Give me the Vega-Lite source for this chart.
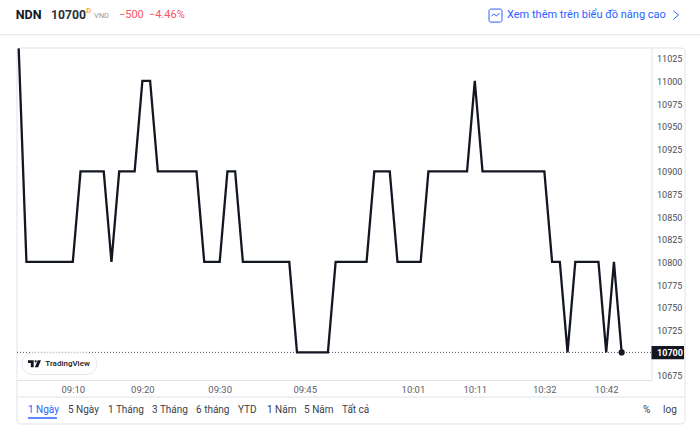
{
  "$schema": "https://vega.github.io/schema/vega-lite/v6.json",
  "description": "NDN intraday price line",
  "width": 634.5,
  "height": 332,
  "autosize": {"type": "none"},
  "padding": {"left": 17, "top": 48, "right": 48.5, "bottom": 50},
  "background": "#ffffff",
  "data": {"values": [
    {"bar":0,"price":11036},{"bar":1,"price":10800},{"bar":2,"price":10800},{"bar":3,"price":10800},{"bar":4,"price":10800},{"bar":5,"price":10800},{"bar":6,"price":10800},{"bar":7,"price":10800},
    {"bar":8,"price":10900},{"bar":9,"price":10900},{"bar":10,"price":10900},{"bar":11,"price":10900},{"bar":12,"price":10800},{"bar":13,"price":10900},{"bar":14,"price":10900},{"bar":15,"price":10900},
    {"bar":16,"price":11000},{"bar":17,"price":11000},{"bar":18,"price":10900},{"bar":19,"price":10900},{"bar":20,"price":10900},{"bar":21,"price":10900},{"bar":22,"price":10900},{"bar":23,"price":10900},
    {"bar":24,"price":10800},{"bar":25,"price":10800},{"bar":26,"price":10800},{"bar":27,"price":10900},{"bar":28,"price":10900},{"bar":29,"price":10800},{"bar":30,"price":10800},{"bar":31,"price":10800},
    {"bar":32,"price":10800},{"bar":33,"price":10800},{"bar":34,"price":10800},{"bar":35,"price":10800},{"bar":36,"price":10700},{"bar":37,"price":10700},{"bar":38,"price":10700},{"bar":39,"price":10700},
    {"bar":40,"price":10700},{"bar":41,"price":10800},{"bar":42,"price":10800},{"bar":43,"price":10800},{"bar":44,"price":10800},{"bar":45,"price":10800},{"bar":46,"price":10900},{"bar":47,"price":10900},
    {"bar":48,"price":10900},{"bar":49,"price":10800},{"bar":50,"price":10800},{"bar":51,"price":10800},{"bar":52,"price":10800},{"bar":53,"price":10900},{"bar":54,"price":10900},{"bar":55,"price":10900},
    {"bar":56,"price":10900},{"bar":57,"price":10900},{"bar":58,"price":10900},{"bar":59,"price":11000},{"bar":60,"price":10900},{"bar":61,"price":10900},{"bar":62,"price":10900},{"bar":63,"price":10900},
    {"bar":64,"price":10900},{"bar":65,"price":10900},{"bar":66,"price":10900},{"bar":67,"price":10900},{"bar":68,"price":10900},{"bar":69,"price":10800},{"bar":70,"price":10800},{"bar":71,"price":10700},
    {"bar":72,"price":10800},{"bar":73,"price":10800},{"bar":74,"price":10800},{"bar":75,"price":10800},{"bar":76,"price":10700},{"bar":77,"price":10800},{"bar":78,"price":10700}
  ]},
  "layer": [
    {
      "data": {"values": [{}]},
      "mark": {"type": "rect", "fill": null, "stroke": "#e0e3eb", "strokeWidth": 1, "cornerRadius": 4},
      "encoding": {
        "x": {"datum": -0.22, "type": "quantitative", "scale": {"domain": [-0.22, 81.86], "nice": false, "zero": false}, "title": null,
          "axis": {"values": [7, 16, 26, 37, 51, 59, 68, 76], "labelExpr": "{'7':'09:10','16':'09:20','26':'09:30','37':'09:45','51':'10:01','59':'10:11','68':'10:32','76':'10:42'}[datum.value]", "grid": false, "ticks": false, "domainColor": "#e0e3eb", "labelColor": "#5d606b", "labelFont": "Roboto", "labelFontSize": 9.5, "labelPadding": 4, "labelFlush": false, "title": null}},
        "x2": {"datum": 86.2},
        "y": {"datum": 10620.9, "type": "quantitative", "scale": {"domain": [10669.5, 11036.4], "nice": false, "zero": false}, "title": null,
          "axis": {"orient": "right", "values": [10675, 11025], "labels": false, "grid": false, "ticks": false, "domainColor": "#e0e3eb", "title": null}},
        "y2": {"datum": 11036.4}
      }
    },
    {
      "data": {"values": [{"tick":10675},{"tick":10725},{"tick":10750},{"tick":10775},{"tick":10800},{"tick":10825},{"tick":10850},{"tick":10875},{"tick":10900},{"tick":10925},{"tick":10950},{"tick":10975},{"tick":11000},{"tick":11025}]},
      "mark": {"type": "text", "align": "left", "baseline": "middle", "font": "Roboto", "fontSize": 9, "fill": "#4a4e5a", "dy": 1},
      "encoding": {"x": {"datum": 82.58}, "y": {"field": "tick", "type": "quantitative"}, "text": {"field": "tick", "type": "quantitative", "format": "d"}}
    },
    {
      "data": {"values": [{}]},
      "mark": {"type": "rule", "stroke": "#e0e3eb", "strokeWidth": 1},
      "encoding": {"x": {"datum": -2.42}, "x2": {"datum": 88.13}, "y": {"datum": 11051}}
    },
    {
      "data": {"values": [{}]},
      "mark": {"type": "rule", "stroke": "#e0e3eb", "strokeWidth": 1},
      "encoding": {"x": {"datum": -0.22}, "x2": {"datum": 86.2}, "y": {"datum": 10650.7}}
    },
    {
      "data": {"values": [{}]},
      "mark": {"type": "rule", "stroke": "#4a4e5a", "strokeWidth": 1, "strokeDash": [1, 2]},
      "encoding": {"x": {"datum": -0.22}, "x2": {"datum": 81.86}, "y": {"datum": 10700}}
    },
    {
      "mark": {"type": "line", "stroke": "#131722", "strokeWidth": 2.3, "clip": true},
      "encoding": {
        "x": {"field": "bar", "type": "quantitative"},
        "y": {"field": "price", "type": "quantitative"}
      }
    },
    {
      "transform": [{"filter": "datum.bar == 78"}],
      "mark": {"type": "circle", "fill": "#131722", "opacity": 1, "size": 38},
      "encoding": {
        "x": {"field": "bar", "type": "quantitative"},
        "y": {"field": "price", "type": "quantitative"}
      }
    },
    {
      "data": {"values": [{}]},
      "mark": {"type": "rect", "fill": "#ffffff", "stroke": "#e6e8ee", "strokeWidth": 1, "cornerRadius": 11},
      "encoding": {"x": {"datum": 0.43}, "x2": {"datum": 10.13}, "y": {"datum": 10675.5}, "y2": {"datum": 10699.5}}
    },
    {
      "data": {"values": [{}]},
      "mark": {"type": "point", "filled": true, "fill": "#131722", "opacity": 1, "size": 676, "shape": "M-0.5,-0.27H-0.06V0.27H-0.28V-0.05H-0.5ZM0.09,-0.27A0.085,0.085 0 1 1 0.09,-0.1A0.085,0.085 0 1 1 0.09,-0.27ZM0.25,-0.27H0.5L0.28,0.27H0.03Z"},
      "encoding": {"x": {"datum": 2.04}, "y": {"datum": 10687.5}}
    },
    {
      "data": {"values": [{"label": "TradingView"}]},
      "mark": {"type": "text", "align": "left", "baseline": "middle", "font": "Roboto", "fontSize": 8, "fontWeight": 500, "fill": "#131722"},
      "encoding": {"x": {"datum": 3.44}, "y": {"datum": 10687.5}, "text": {"field": "label"}}
    },
    {
      "data": {"values": [{}]},
      "mark": {"type": "rect", "fill": "#131722"},
      "encoding": {"x": {"datum": 81.86}, "x2": {"datum": 86.07}, "y": {"datum": 10692.4}, "y2": {"datum": 10707.1}}
    },
    {
      "data": {"values": [{"label": "10700"}]},
      "mark": {"type": "text", "align": "left", "baseline": "middle", "font": "Roboto", "fontSize": 9, "fontWeight": 700, "fill": "#ffffff"},
      "encoding": {"x": {"datum": 82.58}, "y": {"datum": 10699.5}, "text": {"field": "label"}}
    },
    {
      "data": {"values": [{"label": "NDN"}]},
      "mark": {"type": "text", "align": "left", "baseline": "middle", "font": "Roboto", "fontSize": 12.5, "fontWeight": 700, "fill": "#131722"},
      "encoding": {"x": {"datum": -0.39}, "y": {"datum": 11072.8}, "text": {"field": "label"}}
    },
    {
      "data": {"values": [{"label": "10700"}]},
      "mark": {"type": "text", "align": "left", "baseline": "middle", "font": "Roboto", "fontSize": 12.2, "fontWeight": 700, "fill": "#2a2e39"},
      "encoding": {"x": {"datum": 4.18}, "y": {"datum": 11072.8}, "text": {"field": "label"}}
    },
    {
      "data": {"values": [{"label": "D"}]},
      "mark": {"type": "text", "align": "left", "baseline": "middle", "font": "Roboto", "fontSize": 7.5, "fontWeight": 700, "fill": "#ffa726"},
      "encoding": {"x": {"datum": 8.75}, "y": {"datum": 11077.2}, "text": {"field": "label"}}
    },
    {
      "data": {"values": [{"label": "VND"}]},
      "mark": {"type": "text", "align": "left", "baseline": "middle", "font": "Roboto", "fontSize": 7.5, "fill": "#9598a1"},
      "encoding": {"x": {"datum": 9.74}, "y": {"datum": 11071.7}, "text": {"field": "label"}}
    },
    {
      "data": {"values": [{"label": "−500"}]},
      "mark": {"type": "text", "align": "left", "baseline": "middle", "font": "Roboto", "fontSize": 11, "fill": "#f7525f"},
      "encoding": {"x": {"datum": 12.97}, "y": {"datum": 11072.8}, "text": {"field": "label"}}
    },
    {
      "data": {"values": [{"label": "−4.46%"}]},
      "mark": {"type": "text", "align": "left", "baseline": "middle", "font": "Roboto", "fontSize": 11, "fill": "#f7525f"},
      "encoding": {"x": {"datum": 16.85}, "y": {"datum": 11072.8}, "text": {"field": "label"}}
    },
    {
      "data": {"values": [{}]},
      "mark": {"type": "rect", "fill": null, "stroke": "#2962ff", "strokeWidth": 1, "cornerRadius": 2},
      "encoding": {"x": {"datum": 60.84}, "x2": {"datum": 62.52}, "y": {"datum": 11065}, "y2": {"datum": 11079.4}}
    },
    {
      "data": {"values": [{}]},
      "mark": {"type": "point", "filled": false, "stroke": "#2962ff", "strokeWidth": 1, "opacity": 1, "size": 256, "shape": "M-0.5,0.15L-0.2,-0.15L0.1,0.1L0.5,-0.2"},
      "encoding": {"x": {"datum": 61.68}, "y": {"datum": 11072.8}}
    },
    {
      "data": {"values": [{"label": "Xem thêm trên biểu đồ nâng cao"}]},
      "mark": {"type": "text", "align": "left", "baseline": "middle", "font": "Roboto", "fontSize": 11, "fill": "#2962ff"},
      "encoding": {"x": {"datum": 63.17}, "y": {"datum": 11072.8}, "text": {"field": "label"}}
    },
    {
      "data": {"values": [{}]},
      "mark": {"type": "point", "filled": false, "stroke": "#2962ff", "strokeWidth": 1, "opacity": 1, "size": 276, "shape": "M-0.3,-0.5L0.3,0L-0.3,0.5"},
      "encoding": {"x": {"datum": 85.03}, "y": {"datum": 11072.8}}
    },
    {
      "data": {"values": [{}]},
      "mark": {"type": "rule", "stroke": "#2962ff", "strokeWidth": 1.5},
      "encoding": {"x": {"datum": 1.2}, "x2": {"datum": 4.95}, "y": {"datum": 10627.5}}
    },
    {
      "data": {"values": [{"label": "1 Ngày"}]},
      "mark": {"type": "text", "align": "left", "baseline": "middle", "font": "Roboto", "fontSize": 10, "fill": "#2962ff"},
      "encoding": {"x": {"datum": 1.2}, "y": {"datum": 10636.4}, "text": {"field": "label"}}
    },
    {
      "data": {"values": [{"label": "5 Ngày"}]},
      "mark": {"type": "text", "align": "left", "baseline": "middle", "font": "Roboto", "fontSize": 10, "fill": "#3a3e4a"},
      "encoding": {"x": {"datum": 6.38}, "y": {"datum": 10636.4}, "text": {"field": "label"}}
    },
    {
      "data": {"values": [{"label": "1 Tháng"}]},
      "mark": {"type": "text", "align": "left", "baseline": "middle", "font": "Roboto", "fontSize": 10, "fill": "#3a3e4a"},
      "encoding": {"x": {"datum": 11.55}, "y": {"datum": 10636.4}, "text": {"field": "label"}}
    },
    {
      "data": {"values": [{"label": "3 Tháng"}]},
      "mark": {"type": "text", "align": "left", "baseline": "middle", "font": "Roboto", "fontSize": 10, "fill": "#3a3e4a"},
      "encoding": {"x": {"datum": 17.24}, "y": {"datum": 10636.4}, "text": {"field": "label"}}
    },
    {
      "data": {"values": [{"label": "6 tháng"}]},
      "mark": {"type": "text", "align": "left", "baseline": "middle", "font": "Roboto", "fontSize": 10, "fill": "#3a3e4a"},
      "encoding": {"x": {"datum": 22.94}, "y": {"datum": 10636.4}, "text": {"field": "label"}}
    },
    {
      "data": {"values": [{"label": "YTD"}]},
      "mark": {"type": "text", "align": "left", "baseline": "middle", "font": "Roboto", "fontSize": 10, "fill": "#3a3e4a"},
      "encoding": {"x": {"datum": 28.37}, "y": {"datum": 10636.4}, "text": {"field": "label"}}
    },
    {
      "data": {"values": [{"label": "1 Năm"}]},
      "mark": {"type": "text", "align": "left", "baseline": "middle", "font": "Roboto", "fontSize": 10, "fill": "#3a3e4a"},
      "encoding": {"x": {"datum": 32.12}, "y": {"datum": 10636.4}, "text": {"field": "label"}}
    },
    {
      "data": {"values": [{"label": "5 Năm"}]},
      "mark": {"type": "text", "align": "left", "baseline": "middle", "font": "Roboto", "fontSize": 10, "fill": "#3a3e4a"},
      "encoding": {"x": {"datum": 36.91}, "y": {"datum": 10636.4}, "text": {"field": "label"}}
    },
    {
      "data": {"values": [{"label": "Tất cả"}]},
      "mark": {"type": "text", "align": "left", "baseline": "middle", "font": "Roboto", "fontSize": 10, "fill": "#3a3e4a"},
      "encoding": {"x": {"datum": 41.82}, "y": {"datum": 10636.4}, "text": {"field": "label"}}
    },
    {
      "data": {"values": [{"label": "%"}]},
      "mark": {"type": "text", "align": "left", "baseline": "middle", "font": "Roboto", "fontSize": 10, "fill": "#3a3e4a"},
      "encoding": {"x": {"datum": 80.76}, "y": {"datum": 10636.4}, "text": {"field": "label"}}
    },
    {
      "data": {"values": [{"label": "log"}]},
      "mark": {"type": "text", "align": "left", "baseline": "middle", "font": "Roboto", "fontSize": 10, "fill": "#3a3e4a"},
      "encoding": {"x": {"datum": 83.35}, "y": {"datum": 10636.4}, "text": {"field": "label"}}
    }
  ],
  "config": {"view": {"stroke": null}}
}
